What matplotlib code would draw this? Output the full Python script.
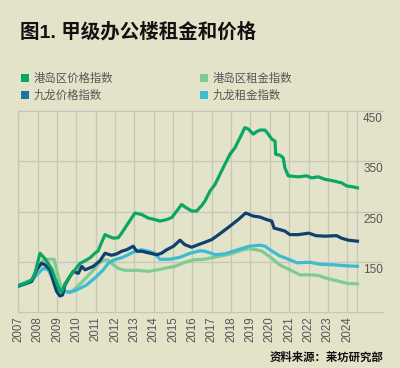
import matplotlib
matplotlib.use("Agg")
import matplotlib.pyplot as plt
from matplotlib.patches import Rectangle

plt.rcParams["font.family"] = ["Liberation Sans", "Noto Sans CJK SC", "DejaVu Sans"]

# index values (year, value)
hk_price_yr = [2007.0, 2007.4, 2007.69, 2007.86, 2008.12, 2008.38, 2008.55, 2008.73,
               2008.98, 2009.15, 2009.24, 2009.41, 2009.67, 2009.93, 2010.19, 2010.45,
               2010.71, 2010.96, 2011.13, 2011.22, 2011.48, 2011.65, 2011.91, 2012.17,
               2012.34, 2012.68, 2013.03, 2013.38, 2013.72, 2014.06, 2014.32, 2014.67,
               2014.93, 2015.19, 2015.44, 2015.70, 2015.96, 2016.22, 2016.48, 2016.65,
               2016.91, 2017.17, 2017.42, 2017.68, 2017.94, 2018.20, 2018.46, 2018.71,
               2018.89, 2019.14, 2019.32, 2019.49, 2019.75, 2019.92, 2020.10, 2020.27,
               2020.30, 2020.52, 2020.69, 2020.78, 2020.95, 2021.47, 2021.90, 2022.16,
               2022.50, 2022.85, 2023.28, 2023.71, 2023.97, 2024.31, 2024.53]
hk_price = [103, 108, 114, 127, 167, 156, 146, 136,
            108, 93, 90, 106, 121, 134, 147, 152,
            158, 167, 172, 181, 204, 201, 197, 198,
            207, 227, 247, 244, 237, 234, 231, 234,
            238, 251, 264, 257, 251, 251, 262, 271,
            291, 304, 324, 344, 364, 377, 397, 417,
            414, 404, 409, 412, 412, 404, 394, 390,
            364, 362, 357, 337, 321, 319, 321, 317,
            319, 314, 311, 307, 301, 299, 297]

kl_price_yr = [2007.0, 2007.69, 2007.95, 2008.2, 2008.38, 2008.64, 2008.81, 2008.98,
               2009.15, 2009.29, 2009.41, 2009.67, 2009.84, 2010.1, 2010.28, 2010.45,
               2010.88, 2011.22, 2011.48, 2011.82, 2012.1, 2012.34, 2012.6, 2012.94,
               2013.12, 2013.38, 2013.82, 2014.15, 2014.4, 2014.67, 2015.02, 2015.36,
               2015.61, 2015.96, 2016.30, 2016.65, 2016.99, 2017.25, 2017.6, 2017.94,
               2018.37, 2018.75, 2018.89, 2019.14, 2019.49, 2019.83, 2020.10, 2020.22,
               2020.52, 2020.78, 2021.04, 2021.47, 2022.02, 2022.38, 2022.85, 2023.45,
               2023.71, 2024.05, 2024.53]
kl_price = [102, 111, 134, 147, 144, 134, 111, 91,
            82, 84, 104, 121, 131, 127, 141, 134,
            141, 152, 167, 163, 166, 171, 174, 181,
            171, 171, 167, 164, 167, 174, 181, 193,
            184, 179, 184, 189, 194, 201, 211, 221,
            234, 247, 245, 241, 239, 234, 231, 217,
            214, 211, 204, 204, 207, 202, 201, 202,
            197, 193, 191]

hk_rent_yr = [2007.0, 2007.4, 2007.75, 2008.0, 2008.25, 2008.45, 2008.85, 2009.0,
              2009.2, 2009.45, 2009.8, 2010.3, 2010.8, 2011.2, 2011.48, 2011.65,
              2011.91, 2012.17, 2012.5, 2013.2, 2013.7, 2014.2, 2014.55, 2015.1,
              2015.6, 2016.1, 2016.6, 2017.4, 2018.0, 2018.55, 2018.9, 2019.3,
              2019.6, 2020.1, 2020.5, 2021.04, 2021.56, 2022.1, 2022.5, 2022.94,
              2023.5, 2024.0, 2024.53]
hk_rent = [103, 110, 114, 140, 152, 155, 155, 130,
           100, 90, 92, 110, 130, 148, 154, 153,
           144, 137, 133, 133, 131, 134, 137, 141,
           149, 154, 155, 161, 166, 173, 176, 174,
           171, 157, 144, 134, 124, 124, 123, 117,
           112, 107, 106]

kl_rent_yr = [2007.0, 2007.6, 2007.95, 2008.29, 2008.55, 2008.81, 2009.07, 2009.41,
              2009.67, 2010.02, 2010.53, 2011.05, 2011.39, 2011.65, 2011.91, 2012.4,
              2012.68, 2013.03, 2013.38, 2013.72, 2014.06, 2014.32, 2014.84, 2015.36,
              2015.87, 2016.4, 2016.65, 2017.2, 2017.7, 2018.1, 2018.6, 2018.94,
              2019.5, 2019.75, 2020.0, 2020.5, 2021.04, 2021.4, 2022.08, 2022.6,
              2023.28, 2023.97, 2024.53]
kl_rent = [101, 109, 124, 137, 134, 114, 97, 91,
           89, 94, 104, 121, 134, 147, 153, 159,
           164, 171, 174, 171, 167, 155, 155, 159,
           167, 172, 171, 164, 166, 171, 177, 181,
           183, 181, 174, 162, 154, 148, 149, 145,
           144, 142, 141]

years = list(range(2007, 2025))
y_ticks = [150, 250, 350, 450]

bg = "#e3e3c9"
grid_c = "#c6c6bb"
text_c = "#555555"

fig = plt.figure(figsize=(4.0, 3.68), dpi=100, facecolor=bg)
ax = fig.add_axes([0.0458, 0.152, 0.9117, 0.5464], facecolor=bg)

# vertical grid at each year plus end of data
for yr in years + [2024.5]:
    ax.axvline(yr, color=grid_c, lw=0.9, zorder=0)
for v in y_ticks[:-1]:
    ax.axhline(v, color=grid_c, lw=0.9, zorder=0)

ax.plot(hk_rent_yr, hk_rent, color="#7fcb96", lw=2.3, zorder=2)
ax.plot(kl_rent_yr, kl_rent, color="#3dbbd0", lw=2.3, zorder=3)
ax.plot(kl_price_yr, kl_price, color="#0f4170", lw=2.3, zorder=4)
ax.plot(hk_price_yr, hk_price, color="#0aa764", lw=2.3, zorder=5)

ax.set_xlim(2007, 2025.85)
ax.set_ylim(50, 450)
for s in ["top", "left", "bottom"]:
    ax.spines[s].set_color(grid_c)
    ax.spines[s].set_linewidth(0.9)
ax.spines["right"].set_visible(False)

ax.set_xticks(years)
ax.set_xticklabels([str(y) for y in years], rotation=90, fontsize=8.3, color=text_c)
ax.tick_params(axis="x", length=0, pad=3)
ax.set_yticks([])

for v in y_ticks:
    ax.annotate(str(v), xy=(1, v), xycoords=("axes fraction", "data"),
                xytext=(-7.2, -5.8), textcoords="offset points",
                ha="center", va="center", fontsize=8.5, color=text_c)

fig.text(20 / 400, 1 - 32 / 368, "图1. 甲级办公楼租金和价格", fontsize=14,
         fontweight="bold", color="#111111", ha="left", va="center")

legend_items = [
    ("港岛区价格指数", "#0aa764", 20.7, 78),
    ("九龙价格指数", "#1b75a0", 20.7, 95),
    ("港岛区租金指数", "#7fcb96", 199.5, 78),
    ("九龙租金指数", "#3dbbd0", 199.5, 95),
]
for label, col, px, py in legend_items:
    fig.patches.append(Rectangle((px / 400, 1 - (py + 4.3) / 368), 8.7 / 400, 8.7 / 368,
                                 transform=fig.transFigure, facecolor=col,
                                 edgecolor="none"))
    fig.text((px + 13) / 400, 1 - py / 368, label, fontsize=8.2, color=text_c,
             ha="left", va="center")

fig.text(383 / 400, 1 - 357 / 368, "资料来源：莱坊研究部", fontsize=8.2,
         fontweight="bold", color="#111111", ha="right", va="center")

fig.savefig("out.png", dpi=100, facecolor=bg)
